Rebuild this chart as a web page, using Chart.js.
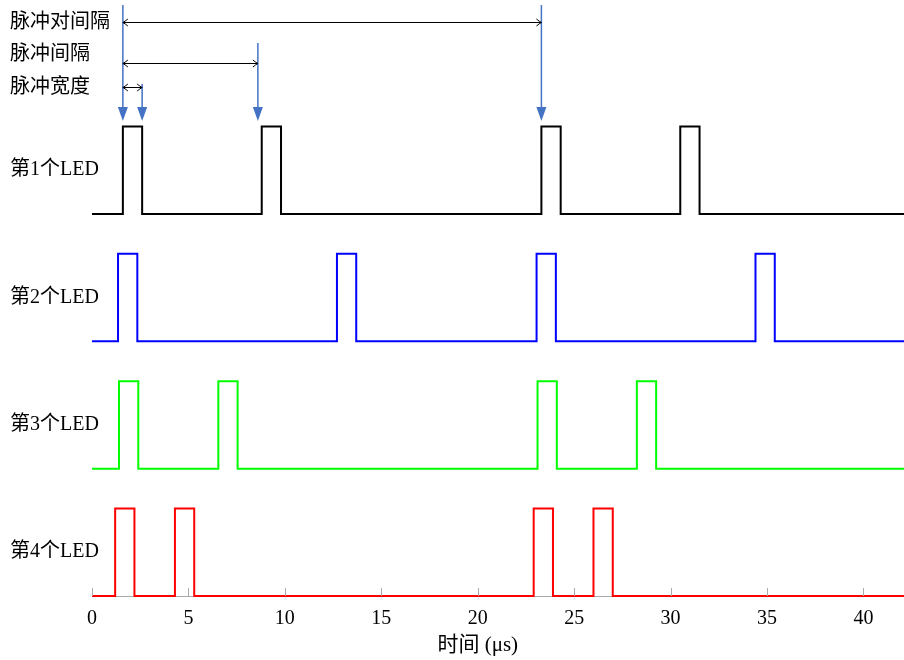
<!DOCTYPE html>
<html>
<head>
<meta charset="utf-8">
<script src="https://cdn.jsdelivr.net/npm/chart.js@4/dist/chart.umd.min.js"></script>
<style>
  html, body { margin: 0; padding: 0; background: #fff; }
  #wrap { width: 904px; height: 660px; }
</style>
</head>
<body>
<div id="wrap"><canvas id="pulses" width="904" height="660"></canvas></div>
<script>
// LED pulse trains (start time of each pulse, µs)
const ledLabels = ['第1个LED', '第2个LED', '第3个LED', '第4个LED'];
const led1Starts = [1.6, 8.8, 23.3, 30.5];
const led2Starts = [1.35, 12.7, 23.05, 34.4];
const led3Starts = [1.4, 6.55, 23.1, 28.25];
const led4Starts = [1.2, 4.3, 22.9, 26.0];
const ledColors = ['#000000', '#0000ff', '#00ff00', '#ff0000'];
const ledBaseLevels = [4.365, 2.91, 1.455, 0];
const pulseWidth = 1;
const xTicks = [0, 5, 10, 15, 20, 25, 30, 35, 40];
const xMax = 42.1;
const xTitle = '时间 (μs)';

// markers: [label, from, to]
const markerTimes = [1.6, 2.6, 8.6, 23.3];
const spans = [
  ['脉冲对间隔', 1.6, 23.3],
  ['脉冲间隔', 1.6, 8.6],
  ['脉冲宽度', 1.6, 2.6]
];

const FONT = "'Liberation Serif', 'Noto Sans CJK SC', serif";

function pulseTrace(starts, base) {
  const pts = [{ x: 0, y: base }];
  starts.forEach(s => {
    pts.push({ x: s, y: base }, { x: s, y: base + 1 },
             { x: s + pulseWidth, y: base + 1 }, { x: s + pulseWidth, y: base });
  });
  pts.push({ x: xMax, y: base });
  return pts;
}

const allStarts = [led1Starts, led2Starts, led3Starts, led4Starts];
const datasets = allStarts.map((st, i) => ({
  label: ledLabels[i],
  data: pulseTrace(st, ledBaseLevels[i]),
  borderColor: ledColors[i],
  borderWidth: 2,
  pointRadius: 0,
  tension: 0,
  fill: false,
  clip: false
}));

// inward ticks, row labels, axis title, marker arrows
const decor = {
  id: 'decor',
  afterDatasetsDraw(chart) {
    const { ctx, scales: { x, y } } = chart;
    const baseY = y.getPixelForValue(0);
    ctx.save();
    // ticks pointing up
    ctx.strokeStyle = '#aaaaaa';
    ctx.lineWidth = 1;
    xTicks.forEach(v => {
      const px = Math.round(x.getPixelForValue(v)) + 0.5;
      ctx.beginPath();
      ctx.moveTo(px, baseY);
      ctx.lineTo(px, baseY - 8);
      ctx.stroke();
    });

    // row labels
    ctx.fillStyle = '#000';
    ctx.font = '20px ' + FONT;
    ctx.textBaseline = 'middle';
    ctx.textAlign = 'left';
    ledLabels.forEach((lab, i) => {
      ctx.fillText(lab, 10, y.getPixelForValue(ledBaseLevels[i] + 0.5));
    });

    // axis title, centred under the 0-40 range
    ctx.textAlign = 'center';
    ctx.font = '21px ' + FONT;
    ctx.fillText(xTitle, x.getPixelForValue(20), 645);
    ctx.font = '20px ' + FONT;
    ctx.textAlign = 'left';

    // blue marker arrows
    const tipY = 121;
    const tops = [5, 84, 43, 5];
    ctx.strokeStyle = '#4472c4';
    ctx.fillStyle = '#4472c4';
    ctx.lineWidth = 1.5;
    markerTimes.forEach((t, i) => {
      const px = x.getPixelForValue(t);
      ctx.beginPath();
      ctx.moveTo(px, tops[i]);
      ctx.lineTo(px, tipY - 12);
      ctx.stroke();
      ctx.beginPath();
      ctx.moveTo(px - 5, tipY - 14);
      ctx.lineTo(px + 5, tipY - 14);
      ctx.lineTo(px, tipY);
      ctx.closePath();
      ctx.fill();
    });

    // black double-headed spans with labels
    const spanY = [22, 63, 87];
    const labY = [23, 55, 88];
    ctx.strokeStyle = '#000';
    ctx.lineWidth = 1;
    spans.forEach(([lab, a, b], i) => {
      const x1 = x.getPixelForValue(a), x2 = x.getPixelForValue(b);
      const yy = spanY[i] + 0.5;
      ctx.beginPath();
      ctx.moveTo(x1, yy);
      ctx.lineTo(x2, yy);
      ctx.moveTo(x1 + 5, yy - 3.5);
      ctx.quadraticCurveTo(x1 + 2, yy - 1, x1, yy);
      ctx.quadraticCurveTo(x1 + 2, yy + 1, x1 + 5, yy + 3.5);
      ctx.moveTo(x2 - 5, yy - 3.5);
      ctx.quadraticCurveTo(x2 - 2, yy - 1, x2, yy);
      ctx.quadraticCurveTo(x2 - 2, yy + 1, x2 - 5, yy + 3.5);
      ctx.stroke();
      ctx.fillStyle = '#000';
      ctx.fillText(lab, 10, labY[i]);
    });
    ctx.restore();
  }
};

new Chart(document.getElementById('pulses'), {
  type: 'line',
  data: { datasets },
  options: {
    responsive: false,
    animation: false,
    layout: { padding: { left: 92, right: 0, top: 0, bottom: 0 } },
    plugins: { legend: { display: false }, tooltip: { enabled: false } },
    scales: {
      x: {
        type: 'linear',
        min: 0,
        max: xMax,
        afterBuildTicks: s => { s.ticks = xTicks.map(v => ({ value: v })); },
        afterFit: s => { s.height = 64; },
        grid: { display: false, drawTicks: false },
        border: { display: true, color: '#aaaaaa', width: 1 },
        ticks: { color: '#000', font: { family: FONT, size: 20 }, padding: 11, maxRotation: 0 },
        title: { display: false }
      },
      y: {
        display: false,
        min: 0,
        max: 6.81
      }
    }
  },
  plugins: [decor]
});
</script>
</body>
</html>
